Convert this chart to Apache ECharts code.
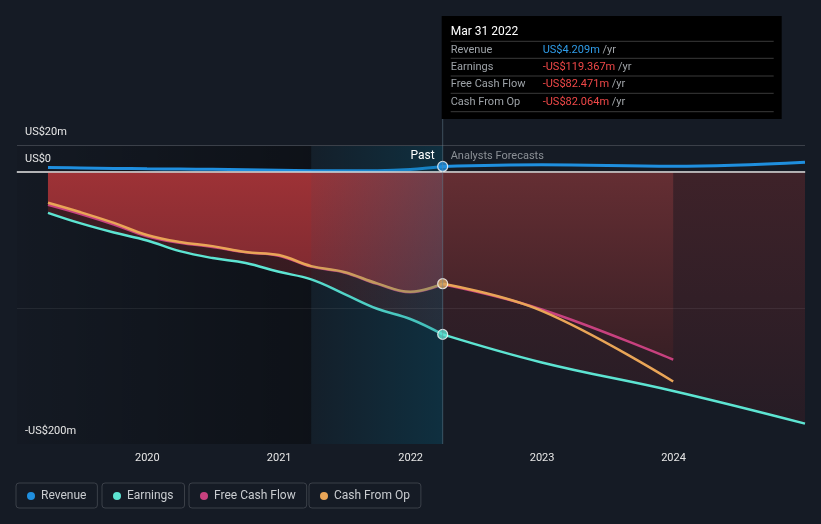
<!DOCTYPE html>
<html>
<head>
<meta charset="utf-8">
<script src="https://cdn.jsdelivr.net/npm/echarts@6/dist/echarts.min.js"></script>
<style>
html,body{margin:0;padding:0;background:#151b25;}
#c{width:821px;height:524px;}
</style>
</head>
<body>
<div id="c"></div>
<script>
// ---- data ----
const pastDates = ['2019-03-31','2019-06-30','2019-09-30','2019-12-31','2020-03-31','2020-06-30','2020-09-30','2020-12-31','2021-03-31','2021-06-30','2021-09-30','2021-12-31','2022-03-31'];
const pastRevenue  = [3.4, 3.1, 2.8, 2.5, 2.3, 2.1, 1.8, 1.4, 1.1, 1.0, 1.1, 2.0, 4.209];
const pastEarnings = [-29.9, -37.7, -44.4, -50.3, -58.1, -63.2, -66.8, -73.3, -78.9, -89.5, -100.5, -108.0, -119.367];
const pastFCF      = [-24.0, -30.8, -38.5, -47.2, -52.0, -55.0, -59.0, -61.5, -69.5, -73.8, -82.2, -88.3, -82.471];
const pastCFO      = [-22.5, -29.5, -37.3, -46.2, -51.4, -54.4, -58.8, -61.0, -69.1, -73.4, -81.8, -88.0, -82.064];

const fcDates      = ['2022-03-31','2022-12-31','2023-12-31','2024-12-31'];
const fcRevenue    = [4.209, 5.5, 4.3, 7.3];
const fcEarnings   = [-119.367, -140, -161, -185];
const fcCashDates  = ['2022-03-31','2022-12-31','2023-12-31'];
const fcFCF        = [-82.471, -101, -138];
const fcCFO        = [-82.064, -102, -154];

const yTickLabels  = {'20':'US$20m', '0':'US$0', '-200':'-US$200m'};
const legendNames  = ['Revenue','Earnings','Free Cash Flow','Cash From Op'];
const tipDate      = 'Mar 31 2022';
const tipRows      = [['Revenue','US$4.209m','#2f9ce8'],['Earnings','-US$119.367m','#f04848'],['Free Cash Flow','-US$82.471m','#f04848'],['Cash From Op','-US$82.064m','#f04848']];
const axisMin = '2019-01-04', axisMax = '2024-12-31';
const hlStart = '2021-03-31', nowDate = '2022-03-31';

// ---- styles ----
const C = {rev:'#1f8fdf', earn:'#5de4d2', fcf:'#c8417f', cfo:'#e9a557'};
const FONT = 'Roboto, "Noto Sans", sans-serif';
const zip = (d, v) => d.map((x, i) => [x, v[i]]);
const vgrad = (a, b) => ({type:'linear', x:0, y:0, x2:0, y2:1, colorStops:[{offset:0, color:a},{offset:1, color:b}]});
const hgrad = (a, b) => ({type:'linear', x:0, y:0, x2:1, y2:0, colorStops:[{offset:0, color:a},{offset:1, color:b}]});

function lineSeries(name, data, color, z, w) {
  return {name, type:'line', data, smooth:0.4, symbol:'none', z: z || 3,
    lineStyle:{color, width: w || 2.5}, itemStyle:{color}, silent:true};
}
function areaSeries(name, data, fill, z) {
  return {name, type:'line', data, smooth:0.4, symbol:'none', z,
    lineStyle:{width:0, opacity:0}, areaStyle:{color:fill, opacity:1, origin:0}, silent:true};
}

const series = [
  {name:'_bgPast', type:'line', data:[], z:0, silent:true,
   markArea:{silent:true, z:0, itemStyle:{color:hgrad('rgba(0,0,0,0.06)','rgba(0,0,0,0.36)')},
     data:[[{xAxis:axisMin},{xAxis:hlStart}]]}},
  areaSeries('_earnPastA', zip(pastDates, pastEarnings), vgrad('#401d23','#331a20'), 1),
  areaSeries('_earnFcA', zip(fcDates, fcEarnings), vgrad('#3e2229','#261c25'), 1),
  areaSeries('_cfoPastA', zip(pastDates, pastCFO), vgrad('#9e3236','#7a2930'), 2),
  areaSeries('_fcfFcA', zip(fcCashDates, fcFCF), vgrad('#652e33','#381f25'), 2),
  lineSeries('Revenue', zip(pastDates, pastRevenue), C.rev, 3, 3),
  lineSeries('Revenue', zip(fcDates, fcRevenue), C.rev, 3, 3),
  lineSeries('Earnings', zip(pastDates, pastEarnings), C.earn),
  lineSeries('Earnings', zip(fcDates, fcEarnings), C.earn),
  lineSeries('Free Cash Flow', zip(pastDates, pastFCF), C.fcf),
  lineSeries('Free Cash Flow', zip(fcCashDates, fcFCF), C.fcf),
  lineSeries('Cash From Op', zip(pastDates, pastCFO), C.cfo, 3.1),
  lineSeries('Cash From Op', zip(fcCashDates, fcCFO), C.cfo, 3.1),
  {name:'_hl', type:'line', data:[], z:4, silent:true,
   markArea:{silent:true, z:4, itemStyle:{color:hgrad('rgba(0,95,125,0.06)','rgba(0,95,125,0.30)')},
     data:[[{xAxis:hlStart},{xAxis:nowDate}]]}},
  {name:'_refs', type:'line', data:[], z:5, silent:true,
   markLine:{silent:true, z:5, symbol:['none','none'], label:{show:false},
     data:[
       {yAxis:20, lineStyle:{color:'#3b4049', width:1, type:'solid'}},
       {yAxis:-100, lineStyle:{color:'rgba(255,255,255,0.07)', width:1, type:'solid'}},
       {yAxis:0, lineStyle:{color:'#d6d6d6', width:1.5, type:'solid'}}
     ]}},
  {name:'_markers', type:'scatter', z:10, silent:true, symbol:'circle', symbolSize:10,
   data:[
     {value:[nowDate, pastRevenue[pastRevenue.length-1]], itemStyle:{color:C.rev, borderColor:'#fff', borderWidth:1.2}},
     {value:[nowDate, pastEarnings[pastEarnings.length-1]], itemStyle:{color:C.earn, borderColor:'#fff', borderWidth:1.2}},
     {value:[nowDate, pastCFO[pastCFO.length-1]], itemStyle:{color:'#d6a35e', borderColor:'#fff', borderWidth:1.2}}
   ]}
];

const legendLefts = [16, 102, 189, 309];
const legendColors = [C.rev, C.earn, C.fcf, C.cfo];
const legends = legendNames.map((n, i) => ({
  data:[{name:n, icon:'circle', itemStyle:{color:legendColors[i]}}],
  left: legendLefts[i], top: 483, orient:'horizontal',
  itemWidth: 8, itemHeight: 8, itemGap: 0,
  padding:[7, 11, 6, 11], borderColor:'#3b4049', borderWidth:1, borderRadius:3,
  selectedMode:false,
  textStyle:{color:'#c9ccd0', fontSize:12, fontFamily:FONT, padding:[0,0,0,1]}
}));

const option = {
  backgroundColor:'#151b25',
  animation:false,
  textStyle:{fontFamily:FONT},
  grid:{left:17, right:16, top:145, bottom:80, containLabel:false},
  legend: legends,
  xAxis:{
    type:'time', min:axisMin, max:axisMax, splitNumber:6,
    minInterval: 365*24*3600*1000,
    axisLine:{show:true, lineStyle:{color:'#5a5f66', width:1.5}},
    axisTick:{show:true, length:4, lineStyle:{color:'#5a5f66'}},
    splitLine:{show:false},
    axisLabel:{color:'#e6e6e6', fontSize:11, fontFamily:FONT, margin:9, showMinLabel:false, showMaxLabel:false,
      formatter: v => { const d = new Date(v); return (d.getMonth()===0 && d.getDate()===1) ? String(d.getFullYear()) : ''; }}
  },
  yAxis:{
    type:'value', min:-200, max:20, interval:20,
    axisLine:{show:false}, axisTick:{show:false}, splitLine:{show:false},
    axisLabel:{inside:true, margin:8, color:'#e6e6e6', fontSize:11, fontFamily:FONT,
      verticalAlign:'bottom', lineHeight:26,
      formatter: v => yTickLabels[String(v)] || ''}
  },
  series
};

const chart = echarts.init(document.getElementById('c'));
chart.setOption(option);

// measure helper
const mctx = document.createElement('canvas').getContext('2d');
const measure = (t, font) => { mctx.font = font; return mctx.measureText(t).width; };

const tNow = echarts.number.parseDate(nowDate).getTime();
const pTop = chart.convertToPixel({gridIndex:0}, [tNow, 20]);
const pBot = chart.convertToPixel({gridIndex:0}, [tNow, -200]);
const bx = pTop[0];
const boxTop = 16, boxH = 103, boxW = 339;
const txt = (x, y, text, fill, size) => ({
  type:'text', x, y, z:60, silent:true,
  style:{text, fill, font:size+'px '+FONT, verticalAlign:'middle', textVerticalAlign:'middle'}
});
const pastFont = '12px ' + FONT;
const g = [
  {type:'line', z:40, silent:true, shape:{x1:bx, y1:boxTop, x2:bx, y2:pBot[1]}, style:{stroke:'rgba(110,140,160,0.45)', lineWidth:1}},
  {type:'rect', z:50, silent:true, shape:{x:bx-1, y:boxTop, width:boxW+1, height:boxH}, style:{fill:'#000'}},
  txt(bx+8, boxTop+15.5, tipDate, '#ffffff', 12),
  txt(bx-8-measure('Past', pastFont), pTop[1]+11, 'Past', '#ffffff', 12),
  txt(bx+8, pTop[1]+11, 'Analysts Forecasts', '#8b9096', 11)
];
const sepY = [41.3, 58.3, 76, 93.3, 111.7];
sepY.forEach(y => g.push({type:'line', z:55, silent:true, shape:{x1:bx+8, y1:y, x2:bx+331, y2:y}, style:{stroke:'#3a3a3a', lineWidth:1}}));
tipRows.forEach((r, i) => {
  const y = (sepY[i] + sepY[i+1]) / 2;
  g.push(txt(bx+8, y, r[0], '#9ea3a8', 11));
  g.push({type:'text', x:bx+100, y, z:60, silent:true,
    style:{text:'{v|'+r[1]+'} {u|/yr}', font:'11px '+FONT, verticalAlign:'middle', textVerticalAlign:'middle',
      rich:{v:{fill:r[2], color:r[2], fontSize:11, fontFamily:FONT}, u:{fill:'#a0a4a8', color:'#a0a4a8', fontSize:11, fontFamily:FONT}}}});
});
chart.setOption({graphic: g});
</script>
</body>
</html>
